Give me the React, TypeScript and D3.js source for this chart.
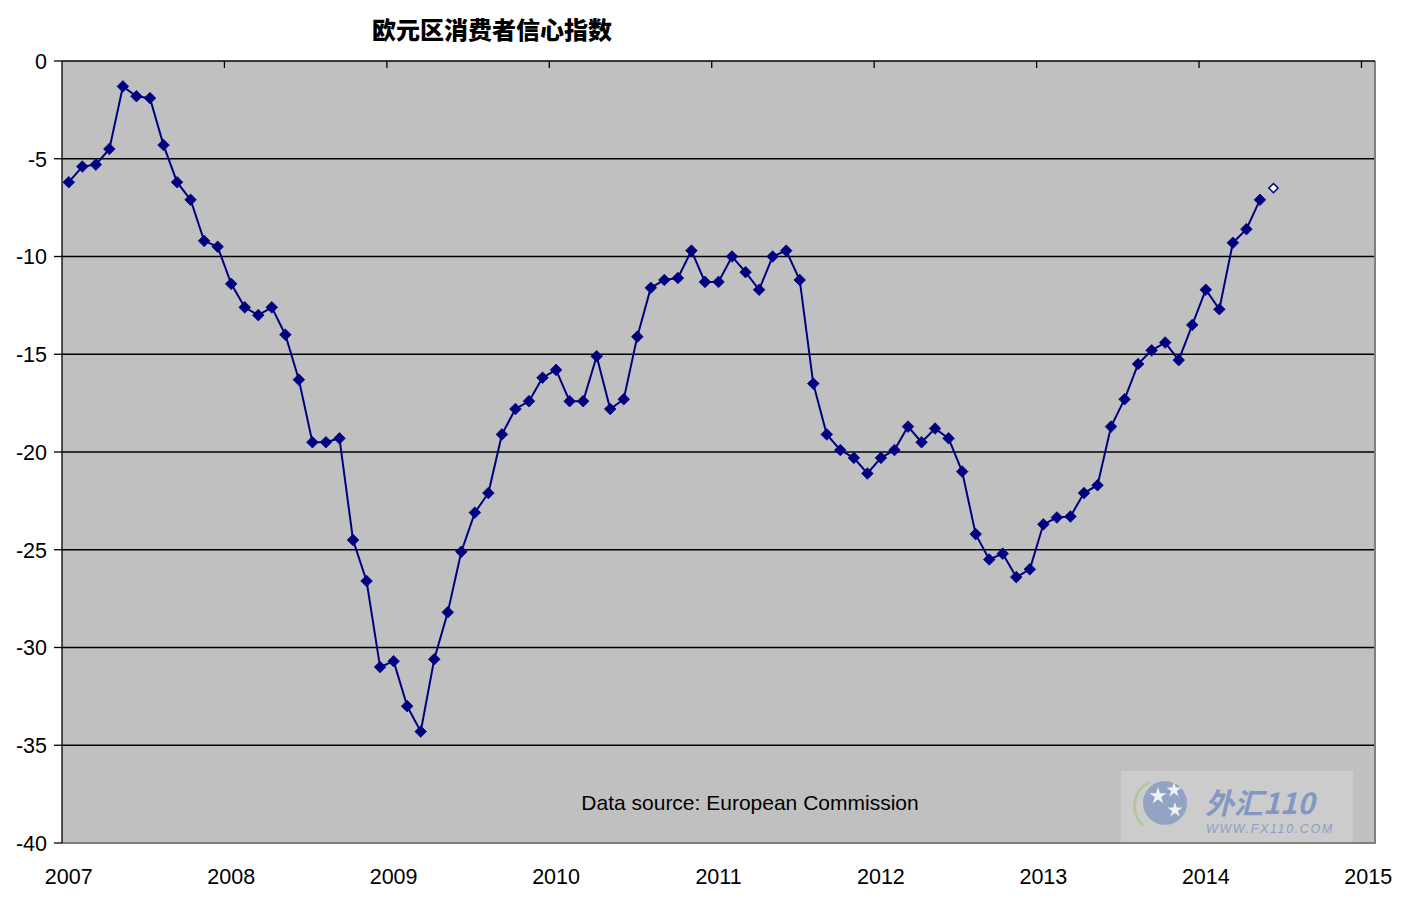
import React from "react";
import * as d3 from "d3";

const title = "欧元区消费者信心指数";
const sourceNote = "Data source: European Commission";
const yearLabels = ["2007", "2008", "2009", "2010", "2011", "2012", "2013", "2014", "2015"];
const yTicks = [0, -5, -10, -15, -20, -25, -30, -35, -40];

// Monthly values, Jan 2007 – May 2014
const values2007 = [-6.2, -5.4, -5.3, -4.5, -1.3, -1.8, -1.9, -4.3, -6.2, -7.1, -9.2, -9.5];
const values2008 = [-11.4, -12.6, -13.0, -12.6, -14.0, -16.3, -19.5, -19.5, -19.3, -24.5, -26.6, -31.0];
const values2009 = [-30.7, -33.0, -34.3, -30.6, -28.2, -25.1, -23.1, -22.1, -19.1, -17.8, -17.4, -16.2];
const values2010 = [-15.8, -17.4, -17.4, -15.1, -17.8, -17.3, -14.1, -11.6, -11.2, -11.1, -9.7, -11.3];
const values2011 = [-11.3, -10.0, -10.8, -11.7, -10.0, -9.7, -11.2, -16.5, -19.1, -19.9, -20.3, -21.1];
const values2012 = [-20.3, -19.9, -18.7, -19.5, -18.8, -19.3, -21.0, -24.2, -25.5, -25.2, -26.4, -26.0];
const values2013 = [-23.7, -23.35, -23.3, -22.1, -21.7, -18.7, -17.3, -15.5, -14.8, -14.4, -15.3, -13.5];
const values2014 = [-11.7, -12.7, -9.3, -8.6, -7.1];
// Flash estimate, June 2014 (hollow marker)
const flashValue = -6.5;

const W = 1403;
const H = 900;
const L = 62;
const R = 1375;
const T = 61;
const B = 843;

export default function App() {
  const series = [
    ...values2007, ...values2008, ...values2009, ...values2010,
    ...values2011, ...values2012, ...values2013, ...values2014,
  ];
  const data = series.map((v, i) => ({ m: i, v }));
  const flash = { m: series.length, v: flashValue };

  const x = d3.scaleLinear().domain([-0.5, 96.5]).range([L, R]);
  const y = d3.scaleLinear().domain([0, -40]).range([T, B]);

  const line = d3
    .line<{ m: number; v: number }>()
    .x((d) => x(d.m))
    .y((d) => y(d.v));

  const diamond = (cx: number, cy: number, r: number) =>
    `M${cx},${cy - r}L${cx + r},${cy}L${cx},${cy + r}L${cx - r},${cy}Z`;

  const font = "'Liberation Sans', Arial, sans-serif";

  return (
    <svg
      width={W}
      height={H}
      style={{ position: "absolute", left: 0, top: 0, background: "#fff" }}
    >
      <rect x={L} y={T} width={R - L} height={B - T} fill="#c0c0c0" />
      {yTicks
        .filter((t) => t !== 0 && t !== -40)
        .map((t) => (
          <line key={t} x1={L} x2={R} y1={y(t)} y2={y(t)} stroke="#000" strokeWidth={1.3} />
        ))}
      {/* plot border */}
      <line x1={R} x2={R} y1={T} y2={B} stroke="#808080" strokeWidth={2} />
      <line x1={L} x2={R + 1} y1={B} y2={B} stroke="#808080" strokeWidth={2} />
      <line x1={L} x2={R} y1={T} y2={T} stroke="#000" strokeWidth={1.3} />
      <line x1={L} x2={L} y1={T} y2={B} stroke="#000" strokeWidth={1.3} />
      {/* y ticks and labels */}
      {yTicks.map((t) => (
        <g key={t}>
          <line x1={L - 8} x2={L} y1={y(t)} y2={y(t)} stroke="#000" strokeWidth={1.3} />
          <text
            x={47}
            y={y(t) + 7.8}
            textAnchor="end"
            fontFamily={font}
            fontSize={21.5}
            fill="#000"
          >
            {t}
          </text>
        </g>
      ))}
      {/* top ticks at year boundaries */}
      {yearLabels.slice(1).map((lab, k) => {
        const xx = x((k + 1) * 12 - 0.5);
        return <line key={lab} x1={xx} x2={xx} y1={T} y2={T + 7} stroke="#000" strokeWidth={1.3} />;
      })}
      {/* year labels */}
      {yearLabels.map((lab, k) => (
        <text
          key={lab}
          x={x(k * 12)}
          y={884}
          textAnchor="middle"
          fontFamily={font}
          fontSize={21.5}
          fill="#000"
        >
          {lab}
        </text>
      ))}
      {/* data line */}
      <path d={line(data) || ""} fill="none" stroke="#000080" strokeWidth={2} />
      {data.map((d) => (
        <path key={d.m} d={diamond(x(d.m), y(d.v), 5.8)} fill="#000080" stroke="#000080" strokeWidth={0.8} />
      ))}
      <path d={diamond(x(flash.m), y(flash.v), 4.6)} fill="#fff" stroke="#000080" strokeWidth={1.5} />
      {/* title */}
      <text
        x={492}
        y={39}
        textAnchor="middle"
        fontFamily="'Noto Sans CJK SC', sans-serif"
        fontWeight={900}
        fontSize={24}
        fill="#000"
      >
        {title}
      </text>
      {/* source note */}
      <text x={750} y={810} textAnchor="middle" fontFamily={font} fontSize={21} fill="#000">
        {sourceNote}
      </text>
      {/* watermark */}
      <g>
        <rect x={1121} y={771} width={232} height={71} fill="#fff" opacity={0.2} />
        <path d="M1143,825 A26,26 0 0,1 1150,782" fill="none" stroke="#a9c58c" strokeWidth={3} opacity={0.7} />
        <circle cx={1165} cy={803} r={22} fill="#8499c0" opacity={0.8} />
        <path d={d3.symbol(d3.symbolStar, 90)() || ""} transform="translate(1158,796)" fill="#fff" opacity={0.85} />
        <path d={d3.symbol(d3.symbolStar, 70)() || ""} transform="translate(1174,790)" fill="#fff" opacity={0.85} />
        <path d={d3.symbol(d3.symbolStar, 70)() || ""} transform="translate(1175,810)" fill="#fff" opacity={0.85} />
        <text
          x={1205}
          y={814}
          fontFamily="'Noto Sans CJK SC', sans-serif"
          fontWeight={700}
          fontStyle="italic"
          fontSize={29}
          fill="#8298c2"
        >
          外汇110
        </text>
        <text
          x={1206}
          y={833}
          fontFamily={font}
          fontStyle="italic"
          fontSize={12.5}
          letterSpacing={1.6}
          fill="#8f9ec4"
        >
          WWW.FX110.COM
        </text>
      </g>
    </svg>
  );
}
